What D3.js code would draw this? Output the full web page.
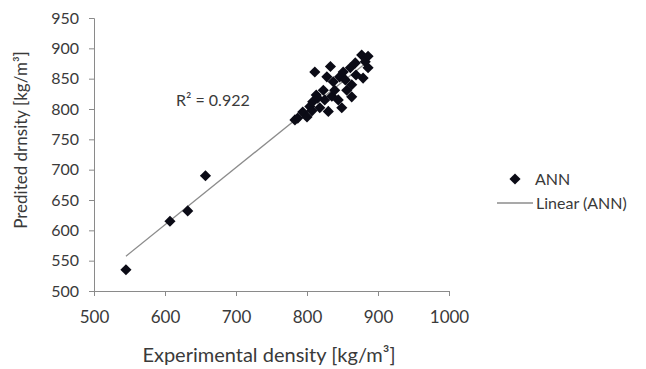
<!DOCTYPE html>
<html>
<head>
<meta charset="utf-8">
<script src="https://cdn.jsdelivr.net/npm/d3@7"></script>
<style>
  body { margin: 0; background: #fff; }
  text { font-family: Lato, "Open Sans", sans-serif; fill: #3a3a3a; }
</style>
</head>
<body>
<div id="chart"></div>
<script>
// experimental vs predicted density (kg/m3)
const experimental = [545, 607, 632, 657,
  783, 787, 794, 800, 804, 807, 808, 811, 813, 815, 818, 823, 825, 828, 830, 833,
  835, 837, 839, 844, 846, 849, 851, 854, 856, 861, 863, 863, 868, 869, 877, 879,
  882, 886, 886];
const predicted = [535, 615, 632, 690,
  782, 785, 795, 787, 804, 797, 812, 861, 823, 818, 802, 831, 815, 853, 796, 870,
  821, 845, 831, 815, 853, 802, 861, 848, 831, 868, 840, 820, 876, 856, 889, 851,
  878, 887, 868];

const xTicks = [500, 600, 700, 800, 900, 1000];
const yTicks = [500, 550, 600, 650, 700, 750, 800, 850, 900, 950];
const r2Label = "R² = 0.922";

const width = 646, height = 369;
const margin = { top: 18, right: 197, bottom: 78, left: 94 };

const points = experimental.map((d, i) => ({ x: d, y: predicted[i] }));

const svg = d3.select("#chart").append("svg")
  .attr("width", width)
  .attr("height", height);

const x = d3.scaleLinear().domain([500, 1000]).range([margin.left, width - margin.right]);
const y = d3.scaleLinear().domain([500, 950]).range([height - margin.bottom, margin.top]);

// axes
const axisColor = "#8a8a8a";
const gx = svg.append("g")
  .attr("transform", `translate(0,${height - margin.bottom})`)
  .call(d3.axisBottom(x).tickValues(xTicks).tickFormat(d3.format("d")).tickSize(5).tickPadding(15));
const gy = svg.append("g")
  .attr("transform", `translate(${margin.left},0)`)
  .call(d3.axisLeft(y).tickValues(yTicks).tickFormat(d3.format("d")).tickSize(5).tickPadding(10));
[gx, gy].forEach(g => {
  g.select(".domain").attr("stroke", axisColor);
  g.selectAll(".tick line").attr("stroke", axisColor);
  g.selectAll(".tick text").attr("fill", "#3a3a3a")
    .style("font-family", "Lato, sans-serif");
});
gy.selectAll(".tick text").style("font-size", "16px");
gx.selectAll(".tick text").style("font-size", "17px");

// least squares trendline
const mx = d3.mean(points, d => d.x), my = d3.mean(points, d => d.y);
const slope = d3.sum(points, d => (d.x - mx) * (d.y - my)) / d3.sum(points, d => (d.x - mx) ** 2);
const icpt = my - slope * mx;
const xr = d3.extent(points, d => d.x);
svg.append("line")
  .attr("x1", x(xr[0])).attr("y1", y(icpt + slope * xr[0]))
  .attr("x2", x(xr[1])).attr("y2", y(icpt + slope * xr[1]))
  .attr("stroke", "#8c8c8c").attr("stroke-width", 1.3);

const diamond = d3.symbol().type(d3.symbolSquare).size(62);
svg.append("g").selectAll("path")
  .data(points)
  .join("path")
  .attr("d", diamond)
  .attr("transform", d => `translate(${x(d.x)},${y(d.y)}) rotate(45)`)
  .attr("fill", "#0b0b16");

svg.append("text")
  .attr("x", 176).attr("y", 106)
  .style("font-size", "16px")
  .text(r2Label);

// axis titles
svg.append("text")
  .attr("x", 269).attr("y", 362)
  .attr("text-anchor", "middle")
  .style("font-size", "20px")
  .text("Experimental density [kg/m³]");
svg.append("text")
  .attr("transform", "translate(27,140) rotate(-90)")
  .attr("text-anchor", "middle")
  .style("font-size", "17px")
  .text("Predited drnsity [kg/m³]");

// legend
const legend = svg.append("g");
legend.append("path")
  .attr("d", diamond)
  .attr("transform", "translate(515,179) rotate(45)")
  .attr("fill", "#0b0b16");
legend.append("text").attr("x", 535).attr("y", 185)
  .style("font-size", "16px").text("ANN");
legend.append("line")
  .attr("x1", 497).attr("x2", 533).attr("y1", 203).attr("y2", 203)
  .attr("stroke", "#8c8c8c").attr("stroke-width", 1.3);
legend.append("text").attr("x", 536).attr("y", 209)
  .style("font-size", "16px").text("Linear (ANN)");
</script>
</body>
</html>
